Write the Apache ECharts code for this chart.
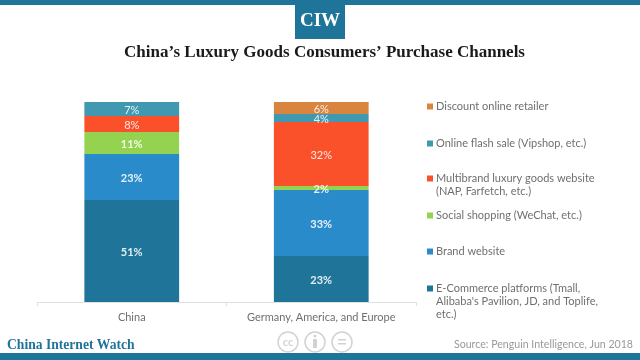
<!DOCTYPE html>
<html><head><meta charset="utf-8">
<script src="https://cdn.jsdelivr.net/npm/echarts@6/dist/echarts.min.js"></script>
<style>html,body{margin:0;padding:0;background:#fff}#c{width:640px;height:360px}</style>
</head><body><div id="c"></div>
<script>
const categories = ['China', 'Germany, America, and Europe'];
const ecommerce = [51, 23];
const brandSite = [23, 33];
const social = [11, 2];
const multibrand = [8, 32];
const flashSale = [7, 4];
const discount = [null, 6];
const seriesNames = [
  'E-Commerce platforms (Tmall,\nAlibaba\'s Pavilion, JD, and Toplife,\netc.)',
  'Brand website',
  'Social shopping (WeChat, etc.)',
  'Multibrand luxury goods website\n(NAP, Farfetch, etc.)',
  'Online flash sale (Vipshop, etc.)',
  'Discount online retailer'
];
const seriesValues = [ecommerce, brandSite, social, multibrand, flashSale, discount];
const colors = ['#1f7499', '#2a8bcb', '#94d350', '#fb512b', '#4099b0', '#d9843f'];
const labelWeights = ['bold', 'bold', 'bold', 'normal', 'normal', 'normal'];
const titleText = 'China\u2019s Luxury Goods Consumers\u2019 Purchase Channels';
const sourceText = 'Source: Penguin Intelligence, Jun 2018';
const brandText = 'China Internet Watch';

const legendTops = [282, 245, 209, 172, 137, 100];
const legendHeights = [39, 13, 13, 26, 13, 13];
const series = seriesValues.map((v, i) => ({
  name: seriesNames[i], type: 'bar', stack: 'a', data: v, barWidth: '50%',
  itemStyle: { color: colors[i] },
  label: { show: true, position: 'inside', formatter: p => p.value + '%', color: 'rgba(255,255,255,0.88)',
           fontFamily: 'Lato', fontSize: 11, fontWeight: labelWeights[i], offset: [0, 1] }
}));
const legends = seriesNames.map((n, i) => ({
  data: [n], left: 427, top: legendTops[i], orient: 'vertical', selectedMode: false, padding: 0,
  itemWidth: 6, itemHeight: legendHeights[i], itemGap: 0,
  icon: 'path://M0 3.5h6v6h-6z M0 0L0 0 M0 ' + legendHeights[i] + 'L0 ' + legendHeights[i],
  textStyle: { fontFamily: 'Lato', fontSize: 11, color: '#6f6f6f', lineHeight: 13, padding: [0, 0, 0, -2] }
}));
const chart = echarts.init(document.getElementById('c'));
chart.setOption({
  animation: false,
  backgroundColor: '#fff',
  title: { text: titleText, left: 119, top: 39,
    textStyle: { fontFamily: 'Liberation Serif', fontWeight: 'bold', fontSize: 17, color: '#1a1a1a' } },
  grid: { left: 37, right: 224, top: 102, bottom: 58 },
  xAxis: { type: 'category', data: categories,
    axisLine: { lineStyle: { color: '#e0e0e0' } },
    axisTick: { show: true, length: 4, lineStyle: { color: '#e0e0e0' } },
    axisLabel: { fontFamily: 'Lato', fontSize: 11, color: '#6f6f6f', margin: 10, interval: 0 } },
  yAxis: { type: 'value', min: 0, max: 100, show: false },
  legend: legends,
  series,
  graphic: [
    { type: 'rect', shape: { x: 0, y: 0, width: 640, height: 5 }, style: { fill: '#1f7499' } },
    { type: 'rect', shape: { x: 295, y: 0, width: 50, height: 39 }, style: { fill: '#1f7499' } },
    { type: 'text', x: 320, y: 21, style: { text: 'CIW', fill: '#fff', font: 'bold 19px "Liberation Serif"', textAlign: 'center', textVerticalAlign: 'middle' } },
    { type: 'rect', shape: { x: 0, y: 353, width: 640, height: 7 }, style: { fill: '#1f7499' } },
    { type: 'text', x: 7, y: 345, style: { text: brandText, fill: '#1f7499', font: 'bold 13.6px "Liberation Serif"', textVerticalAlign: 'middle' } },
    { type: 'text', x: 633, y: 345, style: { text: sourceText, fill: '#999', font: '10.6px Lato', textAlign: 'right', textVerticalAlign: 'middle' } },
    { type: 'circle', shape: { cx: 288, cy: 342, r: 10 }, style: { fill: '#fff', stroke: '#d2d2d2', lineWidth: 1.5 } },
    { type: 'text', x: 288, y: 342, style: { text: 'cc', fill: '#d2d2d2', font: 'bold 11px Lato', textAlign: 'center', textVerticalAlign: 'middle' } },
    { type: 'circle', shape: { cx: 315, cy: 342, r: 10 }, style: { fill: '#fff', stroke: '#d2d2d2', lineWidth: 1.5 } },
    { type: 'circle', shape: { cx: 315, cy: 336, r: 1.5 }, style: { fill: '#d2d2d2' } },
    { type: 'rect', shape: { x: 313, y: 339, width: 4, height: 9 }, style: { fill: '#d2d2d2' } },
    { type: 'circle', shape: { cx: 342, cy: 342, r: 10 }, style: { fill: '#fff', stroke: '#d2d2d2', lineWidth: 1.5 } },
    { type: 'rect', shape: { x: 338, y: 339, width: 8, height: 1.5 }, style: { fill: '#d2d2d2' } },
    { type: 'rect', shape: { x: 338, y: 343, width: 8, height: 1.5 }, style: { fill: '#d2d2d2' } }
  ]
});
</script></body></html>
